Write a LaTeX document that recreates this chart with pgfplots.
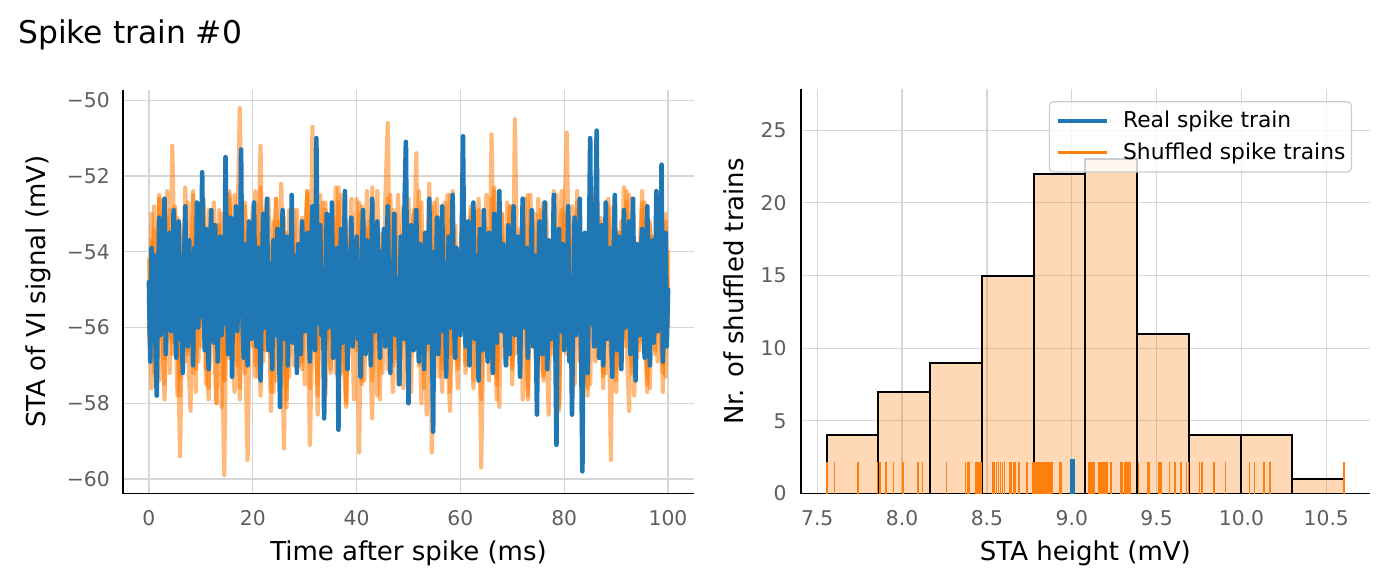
\documentclass[border=0pt]{standalone}
\usepackage{pgfplots}
\pgfplotsset{compat=1.18}
\usepackage{pgfplotstable}
\usepackage{fontspec}
\setmainfont{DejaVu Sans}
\definecolor{tabblue}{HTML}{1F77B4}
\definecolor{taborange}{HTML}{FF7F0E}
\definecolor{gridgray}{HTML}{D6D6D6}
\definecolor{ticklab}{HTML}{5E5E5E}

% real spike train STA (step 0.25 ms)
\pgfplotstableread[row sep=\\]{
y\\
-54.8\\ -56.9\\ -53.9\\ -55.7\\ -54.1\\ -56.4\\ -57.8\\ -55.0\\ -53.1\\ -56.2\\ -54.6\\ -55.5\\ -52.6\\ -56.7\\ -54.3\\ -55.8\\ -53.5\\ -56.1\\ -54.9\\ -52.9\\
-55.6\\ -56.8\\ -54.0\\ -53.2\\ -56.3\\ -55.1\\ -57.2\\ -54.4\\ -52.8\\ -55.9\\ -56.5\\ -53.7\\ -55.3\\ -54.2\\ -57.0\\ -53.9\\ -55.6\\ -52.7\\ -56.0\\ -54.5\\
-55.7\\ -51.9\\ -54.9\\ -56.6\\ -53.4\\ -55.2\\ -57.1\\ -54.0\\ -52.9\\ -55.8\\ -56.4\\ -53.3\\ -54.7\\ -56.9\\ -55.1\\ -53.6\\ -56.2\\ -54.4\\ -55.9\\ -51.5\\
-54.3\\ -56.7\\ -55.0\\ -53.1\\ -57.3\\ -54.6\\ -55.8\\ -52.8\\ -56.1\\ -54.9\\ -55.4\\ -51.3\\ -55.6\\ -56.8\\ -53.8\\ -54.5\\ -57.0\\ -53.2\\ -55.7\\ -56.3\\
-54.1\\ -52.7\\ -55.9\\ -56.5\\ -53.9\\ -55.2\\ -57.4\\ -54.8\\ -53.0\\ -56.0\\ -55.5\\ -52.6\\ -56.6\\ -54.3\\ -55.1\\ -57.1\\ -53.7\\ -54.9\\ -56.2\\ -53.4\\
-55.8\\ -58.1\\ -54.4\\ -52.9\\ -56.3\\ -55.0\\ -53.6\\ -57.0\\ -54.7\\ -55.9\\ -52.5\\ -56.4\\ -54.1\\ -55.3\\ -57.2\\ -53.8\\ -55.6\\ -56.7\\ -53.2\\ -54.9\\
-56.1\\ -54.2\\ -53.5\\ -55.7\\ -56.9\\ -54.0\\ -52.8\\ -55.4\\ -56.6\\ -51.0\\ -54.8\\ -55.9\\ -53.3\\ -56.2\\ -54.5\\ -58.4\\ -55.1\\ -53.0\\ -56.0\\ -54.6\\
-55.3\\ -52.7\\ -56.8\\ -54.1\\ -55.7\\ -53.9\\ -58.7\\ -55.2\\ -53.4\\ -56.4\\ -54.7\\ -52.4\\ -55.8\\ -57.1\\ -54.0\\ -55.5\\ -53.1\\ -56.5\\ -54.9\\ -55.6\\
-53.6\\ -56.3\\ -55.0\\ -57.3\\ -54.2\\ -52.9\\ -55.9\\ -56.7\\ -53.7\\ -55.4\\ -54.4\\ -57.0\\ -52.6\\ -55.8\\ -56.1\\ -54.6\\ -53.2\\ -55.3\\ -56.8\\ -54.0\\
-55.7\\ -53.4\\ -56.5\\ -54.8\\ -52.8\\ -55.2\\ -57.2\\ -54.3\\ -55.9\\ -53.0\\ -56.2\\ -54.7\\ -55.5\\ -57.5\\ -53.6\\ -54.9\\ -56.3\\ -52.7\\ -51.1\\ -55.4\\
-58.0\\ -54.5\\ -53.3\\ -55.8\\ -56.6\\ -54.1\\ -52.9\\ -55.6\\ -56.9\\ -53.8\\ -55.0\\ -54.2\\ -57.1\\ -53.5\\ -55.7\\ -56.4\\ -52.6\\ -54.8\\ -55.9\\ -58.75\\
-54.0\\ -55.6\\ -53.1\\ -56.7\\ -54.6\\ -55.2\\ -52.8\\ -56.1\\ -54.3\\ -57.3\\ -55.4\\ -53.6\\ -56.0\\ -54.9\\ -52.5\\ -55.8\\ -56.8\\ -53.9\\ -55.1\\ -54.4\\
-56.2\\ -53.7\\ -50.95\\ -54.8\\ -56.5\\ -55.3\\ -53.2\\ -57.0\\ -54.5\\ -55.9\\ -52.7\\ -56.3\\ -54.1\\ -55.5\\ -57.4\\ -53.4\\ -55.0\\ -56.6\\ -52.9\\ -54.7\\
-55.8\\ -56.9\\ -53.5\\ -54.2\\ -55.6\\ -57.2\\ -53.0\\ -55.1\\ -56.4\\ -54.6\\ -52.4\\ -55.7\\ -56.1\\ -53.8\\ -54.9\\ -57.0\\ -55.3\\ -53.3\\ -56.7\\ -54.0\\
-55.5\\ -52.8\\ -56.2\\ -54.7\\ -53.6\\ -55.9\\ -57.3\\ -54.3\\ -52.6\\ -56.0\\ -55.2\\ -53.9\\ -56.8\\ -54.5\\ -55.4\\ -52.9\\ -56.5\\ -54.1\\ -55.7\\ -58.3\\
-54.8\\ -53.2\\ -55.6\\ -56.7\\ -54.0\\ -52.7\\ -55.8\\ -57.1\\ -53.7\\ -55.0\\ -56.3\\ -54.4\\ -52.5\\ -55.9\\ -59.1\\ -54.6\\ -53.4\\ -56.1\\ -55.2\\ -53.8\\
-56.6\\ -54.2\\ -55.5\\ -52.8\\ -56.9\\ -54.9\\ -58.3\\ -55.3\\ -53.1\\ -56.2\\ -54.7\\ -55.8\\ -52.6\\ -56.4\\ -59.8\\ -54.5\\ -53.5\\ -55.7\\ -57.2\\ -54.1\\
-51.0\\ -55.9\\ -54.3\\ -56.5\\ -53.0\\ -50.8\\ -55.4\\ -56.8\\ -54.6\\ -53.3\\ -57.0\\ -55.1\\ -52.7\\ -56.3\\ -54.8\\ -53.9\\ -55.6\\ -57.3\\ -54.0\\ -52.5\\
-55.7\\ -56.6\\ -53.6\\ -54.9\\ -57.1\\ -55.2\\ -52.9\\ -56.0\\ -54.4\\ -55.8\\ -53.2\\ -56.7\\ -54.7\\ -52.6\\ -55.5\\ -57.4\\ -53.8\\ -55.0\\ -56.2\\ -54.2\\
-53.4\\ -55.9\\ -56.8\\ -54.5\\ -52.8\\ -55.3\\ -57.0\\ -54.1\\ -53.7\\ -56.4\\ -55.1\\ -52.4\\ -56.1\\ -54.8\\ -55.6\\ -51.7\\ -56.9\\ -54.3\\ -53.5\\ -56.5\\
-55.0\\
}\realsta

% shuffled trains STA (step 0.5 ms)
\pgfplotstableread[row sep=\\]{
y\\
-55.2\\ -57.6\\ -53.4\\ -56.1\\ -52.5\\ -55.8\\ -57.9\\ -54.0\\ -52.9\\ -56.7\\
-54.6\\ -53.1\\ -57.3\\ -55.5\\ -52.3\\ -56.4\\ -58.2\\ -54.3\\ -53.0\\ -56.9\\
-55.0\\ -52.7\\ -57.5\\ -54.8\\ -53.6\\ -56.2\\ -58.0\\ -53.3\\ -55.7\\ -59.9\\
-54.4\\ -52.6\\ -56.8\\ -57.7\\ -53.8\\ -50.2\\ -55.9\\ -57.2\\ -53.5\\ -54.9\\
-56.5\\ -52.4\\ -55.3\\ -57.8\\ -54.1\\ -52.8\\ -56.6\\ -55.1\\ -53.2\\ -57.4\\
-54.7\\ -52.2\\ -56.3\\ -58.1\\ -53.9\\ -55.6\\ -57.0\\ -52.9\\ -55.4\\ -56.9\\
-53.7\\ -52.5\\ -57.6\\ -55.0\\ -54.2\\ -58.3\\ -53.4\\ -56.1\\ -52.7\\ -55.8\\
-57.1\\ -54.5\\ -52.3\\ -56.7\\ -55.2\\ -53.6\\ -57.9\\ -54.0\\ -52.6\\ -56.4\\
-55.7\\ -53.0\\ -57.5\\ -54.3\\ -52.4\\ -56.0\\ -58.4\\ -54.8\\ -53.3\\ -55.5\\
-57.2\\ -52.8\\ -50.6\\ -55.9\\ -57.7\\ -54.1\\ -52.5\\ -56.5\\ -55.0\\ -53.7\\
-57.8\\ -54.6\\ -52.9\\ -56.2\\ -55.3\\ -58.0\\ -53.5\\ -54.9\\ -52.2\\ -56.8\\
-55.1\\ -53.2\\ -57.3\\ -54.4\\ -52.7\\ -56.6\\ -58.2\\ -53.9\\ -55.6\\ -57.0\\
-54.2\\ -52.4\\ -56.3\\ -55.8\\ -53.1\\ -57.6\\ -54.7\\ -52.6\\ -56.9\\ -55.4\\
-53.8\\ -57.4\\ -54.0\\ -52.3\\ -56.1\\ -58.1\\ -53.6\\ -55.2\\ -57.0\\ -54.5\\
-52.8\\ -56.7\\ -55.0\\ -53.4\\ -57.9\\ -54.8\\ -52.5\\ -56.4\\ -55.7\\ -53.0\\
-57.3\\ -54.1\\ -52.7\\ -56.0\\ -58.3\\ -53.7\\ -55.5\\ -57.1\\ -54.3\\ -52.4\\
-56.6\\ -55.2\\ -53.3\\ -57.7\\ -54.6\\ -52.9\\ -56.2\\ -58.0\\ -53.8\\ -55.9\\
-57.5\\ -54.0\\ -52.6\\ -56.8\\ -55.3\\ -53.5\\ -57.2\\ -54.7\\ -59.5\\ -52.8\\
-55.6\\ -57.0\\ -53.2\\ -54.4\\ -56.5\\ -52.5\\ -55.1\\ -57.8\\ -53.9\\ -54.8\\
-56.3\\ -52.7\\ -55.4\\ -57.6\\ -53.6\\ -54.2\\ -56.9\\ -52.4\\ -55.7\\ -57.3\\
-54.0\\
}\shufA

\pgfplotstableread[row sep=\\]{
y\\
-56.3\\ -53.0\\ -55.4\\ -57.5\\ -52.6\\ -54.7\\ -56.8\\ -53.5\\ -57.2\\ -54.1\\
-52.8\\ -55.9\\ -59.4\\ -54.5\\ -53.2\\ -56.6\\ -55.0\\ -52.4\\ -57.7\\ -54.3\\
-55.8\\ -53.6\\ -57.1\\ -52.9\\ -56.2\\ -54.8\\ -58.0\\ -53.3\\ -55.5\\ -57.4\\
-54.0\\ -52.5\\ -56.5\\ -55.2\\ -53.7\\ -57.9\\ -54.6\\ -52.7\\ -56.0\\ -55.6\\
-53.4\\ -57.3\\ -54.2\\ -52.3\\ -56.9\\ -55.1\\ -53.8\\ -58.2\\ -54.9\\ -52.6\\
-56.4\\ -55.7\\ -53.1\\ -57.6\\ -54.4\\ -52.8\\ -56.1\\ -55.3\\ -57.0\\ -53.9\\
-54.6\\ -52.4\\ -56.7\\ -50.7\\ -55.0\\ -57.8\\ -53.6\\ -54.3\\ -52.9\\ -56.3\\
-55.5\\ -53.2\\ -57.2\\ -54.7\\ -52.5\\ -56.8\\ -58.1\\ -53.7\\ -55.2\\ -54.0\\
-56.6\\ -52.7\\ -55.8\\ -57.4\\ -53.4\\ -54.9\\ -52.3\\ -56.2\\ -55.4\\ -57.9\\
-53.8\\ -54.5\\ -52.6\\ -56.9\\ -55.1\\ -53.0\\ -57.5\\ -54.2\\ -52.8\\ -56.4\\
-55.6\\ -57.7\\ -53.5\\ -54.8\\ -52.4\\ -56.0\\ -55.3\\ -58.3\\ -53.9\\ -54.6\\
-52.7\\ -56.5\\ -55.0\\ -57.1\\ -53.3\\ -54.1\\ -52.5\\ -56.7\\ -55.7\\ -57.6\\
-54.3\\ -53.1\\ -57.0\\ -55.2\\ -52.9\\ -56.1\\ -54.7\\ -53.6\\ -59.7\\ -55.5\\
-53.8\\ -56.6\\ -52.6\\ -55.9\\ -57.3\\ -54.4\\ -53.0\\ -56.8\\ -55.1\\ -52.8\\
-57.5\\ -50.5\\ -55.4\\ -56.3\\ -53.7\\ -54.0\\ -57.9\\ -52.5\\ -55.8\\ -56.0\\
-53.4\\ -54.9\\ -57.2\\ -52.7\\ -55.6\\ -56.7\\ -53.1\\ -54.5\\ -58.0\\ -52.9\\
-55.3\\ -56.4\\ -53.6\\ -57.8\\ -54.2\\ -52.4\\ -56.1\\ -55.0\\ -57.4\\ -53.9\\
-54.7\\ -52.6\\ -56.9\\ -55.5\\ -53.2\\ -57.6\\ -54.3\\ -52.8\\ -56.5\\ -55.2\\
-57.1\\ -53.5\\ -54.8\\ -52.3\\ -56.2\\ -58.2\\ -53.8\\ -55.7\\ -56.8\\ -54.0\\
-52.7\\ -55.9\\ -57.3\\ -53.3\\ -54.6\\ -56.6\\ -52.5\\ -55.1\\ -57.7\\ -53.0\\
-55.8\\
}\shufB

\pgfplotstableread[row sep=\\]{
y\\
-54.2\\ -56.7\\ -52.8\\ -55.5\\ -57.4\\ -53.6\\ -55.9\\ -52.4\\ -56.3\\ -51.2\\
-55.0\\ -57.8\\ -53.3\\ -54.6\\ -56.9\\ -52.7\\ -55.7\\ -57.2\\ -53.9\\ -54.4\\
-56.5\\ -52.6\\ -55.2\\ -57.6\\ -53.1\\ -54.8\\ -56.1\\ -52.9\\ -58.1\\ -55.4\\
-53.7\\ -56.8\\ -54.1\\ -52.5\\ -57.0\\ -55.6\\ -53.4\\ -56.2\\ -59.5\\ -54.7\\
-52.8\\ -55.8\\ -57.3\\ -53.5\\ -54.3\\ -56.6\\ -52.6\\ -55.1\\ -57.7\\ -54.0\\
-53.2\\ -56.4\\ -55.3\\ -57.9\\ -52.9\\ -54.5\\ -56.0\\ -53.8\\ -55.6\\ -57.1\\
-54.9\\ -52.4\\ -56.7\\ -55.0\\ -53.6\\ -57.5\\ -54.2\\ -52.7\\ -56.3\\ -55.7\\
-57.2\\ -53.1\\ -54.6\\ -52.3\\ -56.9\\ -55.4\\ -58.0\\ -53.7\\ -54.8\\ -56.1\\
-52.6\\ -55.9\\ -57.4\\ -53.3\\ -54.0\\ -56.5\\ -52.8\\ -55.2\\ -57.8\\ -54.4\\
-53.5\\ -56.2\\ -55.5\\ -52.5\\ -57.0\\ -54.7\\ -53.9\\ -56.8\\ -55.1\\ -52.9\\
-57.3\\ -54.1\\ -53.0\\ -56.4\\ -55.8\\ -52.7\\ -57.6\\ -54.6\\ -53.4\\ -59.3\\
-55.3\\ -52.6\\ -56.0\\ -57.7\\ -53.8\\ -54.3\\ -56.7\\ -52.4\\ -55.6\\ -57.1\\
-54.5\\ -53.2\\ -56.9\\ -55.0\\ -52.8\\ -57.4\\ -54.2\\ -53.6\\ -56.3\\ -55.9\\
-52.5\\ -56.6\\ -50.9\\ -55.4\\ -57.9\\ -53.9\\ -54.8\\ -56.1\\ -52.7\\ -55.7\\
-57.0\\ -53.4\\ -54.4\\ -56.8\\ -52.9\\ -55.5\\ -57.6\\ -53.1\\ -54.9\\ -56.2\\
-52.6\\ -55.2\\ -57.3\\ -53.7\\ -54.0\\ -56.5\\ -52.4\\ -55.8\\ -58.2\\ -54.3\\
-53.0\\ -56.7\\ -55.1\\ -52.8\\ -57.5\\ -54.6\\ -53.5\\ -56.0\\ -55.6\\ -57.8\\
-54.1\\ -52.5\\ -56.4\\ -55.3\\ -53.3\\ -57.2\\ -54.7\\ -52.9\\ -56.8\\ -55.0\\
-57.4\\ -53.6\\ -54.2\\ -56.3\\ -52.7\\ -55.9\\ -57.0\\ -53.8\\ -54.5\\ -56.6\\
-52.4\\ -55.7\\ -57.7\\ -53.2\\ -54.8\\ -56.1\\ -52.8\\ -55.4\\ -57.2\\ -53.9\\
-56.0\\
}\shufC

\pgfplotstableread[row sep=\\]{
y\\
-56.0\\ -53.7\\ -57.2\\ -54.3\\ -52.6\\ -55.8\\ -57.5\\ -53.1\\ -54.9\\ -56.4\\
-52.9\\ -55.3\\ -57.8\\ -54.0\\ -53.4\\ -56.7\\ -55.2\\ -52.5\\ -57.1\\ -54.6\\
-55.9\\ -53.2\\ -56.5\\ -57.9\\ -54.4\\ -52.7\\ -56.1\\ -55.5\\ -53.0\\ -57.4\\
-54.8\\ -52.4\\ -56.9\\ -55.0\\ -53.6\\ -57.6\\ -54.1\\ -52.8\\ -56.3\\ -55.7\\
-53.3\\ -57.0\\ -54.5\\ -51.2\\ -56.6\\ -55.4\\ -53.8\\ -57.7\\ -54.2\\ -52.6\\
-56.8\\ -55.1\\ -59.2\\ -53.5\\ -57.3\\ -54.7\\ -52.9\\ -56.2\\ -55.6\\ -53.1\\
-57.5\\ -54.0\\ -59.1\\ -55.9\\ -53.7\\ -56.5\\ -52.5\\ -55.2\\ -57.8\\ -54.4\\
-53.0\\ -56.0\\ -55.3\\ -52.7\\ -57.2\\ -54.8\\ -53.4\\ -56.7\\ -55.0\\ -57.9\\
-54.3\\ -59.3\\ -52.8\\ -56.4\\ -55.7\\ -53.2\\ -57.4\\ -54.6\\ -52.4\\ -56.1\\
-55.5\\ -53.6\\ -57.1\\ -54.1\\ -52.9\\ -56.8\\ -55.2\\ -53.9\\ -57.6\\ -54.5\\
-52.6\\ -56.3\\ -55.0\\ -51.4\\ -57.0\\ -54.9\\ -53.5\\ -56.6\\ -55.4\\ -52.8\\
-57.3\\ -54.2\\ -53.1\\ -56.9\\ -55.8\\ -52.5\\ -57.7\\ -54.7\\ -53.3\\ -56.0\\
-55.6\\ -52.7\\ -57.2\\ -54.0\\ -53.8\\ -56.4\\ -55.1\\ -52.9\\ -57.9\\ -54.6\\
-53.4\\ -56.7\\ -55.3\\ -52.4\\ -57.5\\ -54.3\\ -53.0\\ -56.2\\ -55.9\\ -52.8\\
-57.1\\ -54.8\\ -53.6\\ -56.5\\ -55.0\\ -52.6\\ -57.8\\ -54.1\\ -53.2\\ -56.8\\
-55.4\\ -52.9\\ -57.4\\ -54.5\\ -53.7\\ -56.1\\ -55.7\\ -52.5\\ -58.1\\ -54.0\\
-53.3\\ -50.85\\ -55.6\\ -57.0\\ -54.2\\ -52.7\\ -56.9\\ -55.2\\ -53.9\\ -57.6\\
-54.4\\ -52.8\\ -56.3\\ -55.8\\ -53.1\\ -57.3\\ -54.9\\ -52.6\\ -56.6\\ -55.0\\
-57.7\\ -53.5\\ -54.7\\ -56.0\\ -52.4\\ -55.5\\ -57.2\\ -53.8\\ -54.1\\ -56.4\\
-52.9\\ -55.3\\ -57.5\\ -53.6\\ -54.6\\ -56.7\\ -52.7\\ -55.9\\ -57.0\\ -53.2\\
-55.1\\
}\shufD

\pgfplotsset{
  common/.style={
    scale only axis, height=202pt,
    axis x line*=bottom, axis y line*=left,
    axis line style={-, black, line width=0.9pt},
    grid=major, grid style={gridgray, line width=0.6pt},
    major tick length=0pt,
    tick label style={font=\fontsize{10.15}{12}\selectfont, text=ticklab},
    xticklabel style={anchor=base, yshift=-15.95pt},
  },
  shuf/.style={taborange, line width=2.1pt, draw opacity=0.55, line join=round, line cap=round, no markers},
}

\begin{document}
\begin{tikzpicture}
\path[use as bounding box] (0pt,0pt) rectangle (691pt,-291.5pt);
\node[anchor=base west, inner sep=0pt, font=\fontsize{15.65}{18}\selectfont] at (9pt,-21.65pt) {Spike train \#0};

\begin{axis}[common,
  at={(61.5pt,-246.75pt)}, anchor=south west, width=285.5pt,
  xmin=-5, xmax=105, ymin=-60.385, ymax=-49.715,
  xtick={0,20,40,60,80,100}, xticklabels={0,20,40,60,80,100},
  ytick={-60,-58,-56,-54,-52,-50}, yticklabels={−60,−58,−56,−54,−52,−50},
  yticklabel style={anchor=east, xshift=-3.1pt},
  xlabel={Time after spike (ms)}, ylabel={STA of VI signal (mV)},
  every axis x label/.style={at={(axis description cs:0.5,-0.1658)}, anchor=base, font=\fontsize{13}{15}\selectfont},
  every axis y label/.style={at={(axis description cs:-0.1366,0.5)}, anchor=base, rotate=90, font=\fontsize{13}{15}\selectfont},
]
\addplot[shuf] table[x expr=\coordindex*0.5, y=y] {\shufA};
\addplot[shuf] table[x expr=\coordindex*0.5, y=y] {\shufB};
\addplot[shuf] table[x expr=\coordindex*0.5, y=y] {\shufC};
\addplot[shuf] table[x expr=\coordindex*0.5, y=y] {\shufD};
\addplot[tabblue, line width=2.3pt, line join=round, line cap=round, no markers] table[x expr=\coordindex*0.25, y=y] {\realsta};
\end{axis}

\begin{axis}[common,
  at={(400.35pt,-246.75pt)}, anchor=south west, width=284.65pt,
  xmin=7.4025, xmax=10.7575, ymin=0, ymax=27.8,
  xtick={7.5,8.0,8.5,9.0,9.5,10.0,10.5}, xticklabels={7.5,8.0,8.5,9.0,9.5,10.0,10.5},
  ytick={0,5,10,15,20,25}, yticklabels={0,5,10,15,20,25},
  yticklabel style={anchor=east, xshift=-3.6pt},
  xlabel={STA height (mV)}, ylabel={Nr. of shuffled trains},
  every axis x label/.style={at={(axis description cs:0.5,-0.1658)}, anchor=base, font=\fontsize{13}{15}\selectfont},
  every axis y label/.style={at={(axis description cs:-0.1013,0.5)}, anchor=base, rotate=90, font=\fontsize{13}{15}\selectfont},
  legend style={at={(axis description cs:0.9684,0.971)}, anchor=north east,
    draw=black!20, line width=0.6pt, rounded corners=2pt, fill=white, fill opacity=0.8, text opacity=1,
    font=\fontsize{10.9}{13}\selectfont, inner xsep=3pt, inner ysep=1.75pt,
    nodes={inner xsep=0pt, inner ysep=3pt}, column sep=7pt, row sep=0pt},
  legend cell align=left,
]
\addplot[ybar interval, fill=taborange, fill opacity=0.3, draw=black, line width=1pt, forget plot]
  coordinates {(7.555,4) (7.86,7) (8.165,9) (8.47,15) (8.775,22) (9.08,23) (9.385,11) (9.69,4) (9.995,4) (10.30,1) (10.605,1)};
\addplot[ycomb, tabblue, line width=2.2pt, no markers,
  legend image code/.code={\draw[tabblue, line width=2.4pt] (0pt,0pt) -- (24.5pt,0pt);}]
  coordinates {(9.005,2.35)};
\addlegendentry{Real spike train}
\addplot[ycomb, taborange, line width=0.75pt, no markers,
  legend image code/.code={\draw[taborange, line width=1.3pt] (0pt,0pt) -- (24.5pt,0pt);}]
  coordinates {
  (7.556,2.2) (7.602,2.2) (7.739,2.2) (7.855,2.2)
  (7.871,2.2) (7.906,2.2) (7.949,2.2) (8.006,2.2) (8.093,2.2) (8.098,2.2) (8.120,2.2)
  (8.261,2.2) (8.373,2.2) (8.385,2.2) (8.393,2.2) (8.436,2.2) (8.445,2.2) (8.452,2.2) (8.460,2.2) (8.468,2.2)
  (8.535,2.2) (8.545,2.2) (8.556,2.2) (8.567,2.2) (8.579,2.2) (8.592,2.2) (8.604,2.2) (8.634,2.2) (8.641,2.2) (8.658,2.2) (8.667,2.2) (8.686,2.2) (8.692,2.2) (8.737,2.2) (8.772,2.2)
  (8.783,2.2) (8.790,2.2) (8.795,2.2) (8.805,2.2) (8.812,2.2) (8.818,2.2) (8.823,2.2) (8.829,2.2) (8.834,2.2) (8.839,2.2) (8.844,2.2) (8.849,2.2) (8.853,2.2) (8.858,2.2) (8.862,2.2) (8.867,2.2) (8.871,2.2) (8.875,2.2) (8.879,2.2) (8.886,2.2) (8.932,2.2) (8.935,2.2)
  (9.100,2.2) (9.106,2.2) (9.112,2.2) (9.118,2.2) (9.124,2.2) (9.130,2.2) (9.160,2.2) (9.166,2.2) (9.172,2.2) (9.178,2.2) (9.185,2.2) (9.192,2.2) (9.198,2.2) (9.204,2.2) (9.210,2.2) (9.232,2.2) (9.290,2.2) (9.300,2.2) (9.310,2.2) (9.320,2.2) (9.330,2.2) (9.340,2.2) (9.347,2.2)
  (9.392,2.2) (9.449,2.2) (9.455,2.2) (9.513,2.2) (9.520,2.2) (9.529,2.2) (9.575,2.2) (9.609,2.2) (9.643,2.2) (9.677,2.2) (9.688,2.2)
  (9.752,2.2) (9.768,2.2) (9.837,2.2) (9.905,2.2)
  (10.046,2.2) (10.076,2.2) (10.133,2.2) (10.167,2.2)
  (10.605,2.2)
  };
\addlegendentry{Shuffled spike trains}
\end{axis}
\end{tikzpicture}
\end{document}
